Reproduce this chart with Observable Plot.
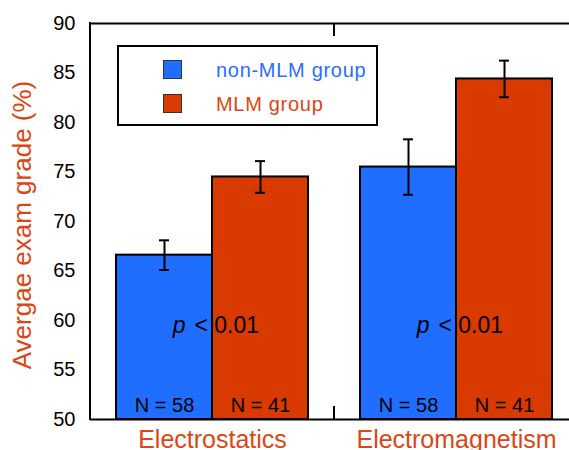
<!DOCTYPE html>
<html>
<head>
<meta charset="utf-8">
<script src="https://cdn.jsdelivr.net/npm/d3@7"></script>
<script src="https://cdn.jsdelivr.net/npm/@observablehq/plot@0.6"></script>
<style>
  body { margin: 0; background: #fff; }
  #wrap { position: relative; width: 569px; height: 450px; overflow: hidden;
          font-family: "Liberation Sans", Arial, Helvetica, sans-serif; }
  #wrap svg { position: absolute; left: 0; top: 0; overflow: visible; }
  #legend { position: absolute; left: 117px; top: 45px; width: 261px; height: 81px;
            box-sizing: border-box; border: 2px solid #000; background: #fff; }
  .sw { position: absolute; width: 19px; height: 19px; box-sizing: border-box; border: 1px solid #333; }
  .lt { position: absolute; font-size: 20px; line-height: 20px; white-space: nowrap; letter-spacing: 0.7px; }
  #ytitle { position: absolute; left: 22px; top: 225px; transform: translate(-50%, -50%) rotate(-90deg);
            font-size: 26px; line-height: 26px; white-space: nowrap; }
</style>
</head>
<body>
<div id="wrap"></div>
<script>
// ---- data ----
const groups = ["Electrostatics", "Electromagnetism"];
const seriesNames = ["non-MLM group", "MLM group"];
const meanGrades = [[66.6, 74.5], [75.5, 84.4]];
const errorBars = [[1.5, 1.6], [2.8, 1.85]];
const sampleSizes = [[58, 41], [58, 41]];
const yDomain = [50, 90];
const yTicks = [50, 55, 60, 65, 70, 75, 80, 85, 90];
const pSymbol = "p";
const pLabel = "< 0.01";
const yTitle = "Avergae exam grade (%)";
const seriesColors = ["#206EFF", "#D83A00"];
const labelColor = "#DC4614";

const rows = groups.flatMap((g, i) => seriesNames.map((s, j) => ({
  group: g, series: s, value: meanGrades[i][j], err: errorBars[i][j], n: sampleSizes[i][j]
})));
const isLast = d => d.series === seriesNames[seriesNames.length - 1];

const chart = Plot.plot({
  width: 569,
  height: 450,
  marginTop: 23,
  marginBottom: 31,
  marginLeft: 90,
  marginRight: -9,
  style: { fontFamily: '"Liberation Sans", Arial, sans-serif', fontSize: "20px", color: "#000", background: "transparent" },
  facet: { data: rows, x: "group" },
  fx: { domain: groups, paddingInner: 0, paddingOuter: 0, axis: null, label: null },
  x: { domain: seriesNames, paddingInner: 0, paddingOuter: 0.258, axis: null },
  y: { domain: yDomain, ticks: yTicks, tickSize: 0, tickPadding: 15, label: null },
  color: { domain: seriesNames, range: seriesColors },
  marks: [
    Plot.barY(rows, { x: "series", y1: yDomain[0], y2: "value", fill: "series", stroke: "#000", strokeWidth: 2 }),
    Plot.ruleX(rows, { x: "series", y1: d => d.value - d.err, y2: d => d.value + d.err, stroke: "#000", strokeWidth: 2 }),
    Plot.tickY(rows, { x: "series", y: d => d.value + d.err, stroke: "#000", strokeWidth: 2, insetLeft: 43, insetRight: 43 }),
    Plot.tickY(rows, { x: "series", y: d => d.value - d.err, stroke: "#000", strokeWidth: 2, insetLeft: 43, insetRight: 43 }),
    Plot.text(rows, { x: "series", text: d => `N = ${d.n}`, frameAnchor: "bottom", dy: -8, fontSize: 20, fill: "#000" }),
    Plot.text(rows, { filter: isLast, text: () => pSymbol, fontStyle: "italic", textAnchor: "end", frameAnchor: "bottom", dy: -87, dx: -27, fontSize: 23, fill: "#000" }),
    Plot.text(rows, { filter: isLast, text: () => pLabel, textAnchor: "start", frameAnchor: "bottom", dy: -87, dx: -18, fontSize: 23, fill: "#000" }),
    Plot.text(rows, { filter: isLast, text: "group", frameAnchor: "bottom", dy: 28, fontSize: 25, fill: labelColor }),
    Plot.ruleY(yDomain, { stroke: "#000", strokeWidth: 2 })
  ]
});

const wrap = document.getElementById("wrap");
wrap.appendChild(chart);

// y tick labels size
d3.select(chart).selectAll('g[aria-label^="y-axis"]').attr("font-size", 20).style("font-size", "20px");

// frame left line and group boundary ticks, positioned from Plot's scales
const fx = chart.scale("fx");
const svg = d3.select(chart);
const yTop = 23, yBot = 419;
const deco = svg.append("g").attr("stroke", "#000").attr("stroke-width", 2);
deco.append("line").attr("x1", fx.range[0]).attr("x2", fx.range[0]).attr("y1", yTop - 1).attr("y2", yBot + 1);
groups.slice(1).forEach(gName => {
  const bx = fx.apply(gName);
  deco.append("line").attr("x1", bx).attr("x2", bx).attr("y1", yTop).attr("y2", yTop + 13);
  deco.append("line").attr("x1", bx).attr("x2", bx).attr("y1", yBot - 13).attr("y2", yBot);
});

// legend
const legend = document.createElement("div");
legend.id = "legend";
seriesNames.forEach((s, i) => {
  const sw = document.createElement("div");
  sw.className = "sw";
  sw.style.left = "44px";
  sw.style.top = (13 + i * 34) + "px";
  sw.style.background = seriesColors[i];
  legend.appendChild(sw);
  const t = document.createElement("div");
  t.className = "lt";
  t.style.left = "97px";
  t.style.top = (12.5 + i * 34) + "px";
  t.style.color = i === 0 ? "#2A6EFF" : labelColor;
  t.textContent = s;
  legend.appendChild(t);
});
wrap.appendChild(legend);

const yt = document.createElement("div");
yt.id = "ytitle";
yt.style.color = labelColor;
yt.textContent = yTitle;
wrap.appendChild(yt);
</script>
</body>
</html>
